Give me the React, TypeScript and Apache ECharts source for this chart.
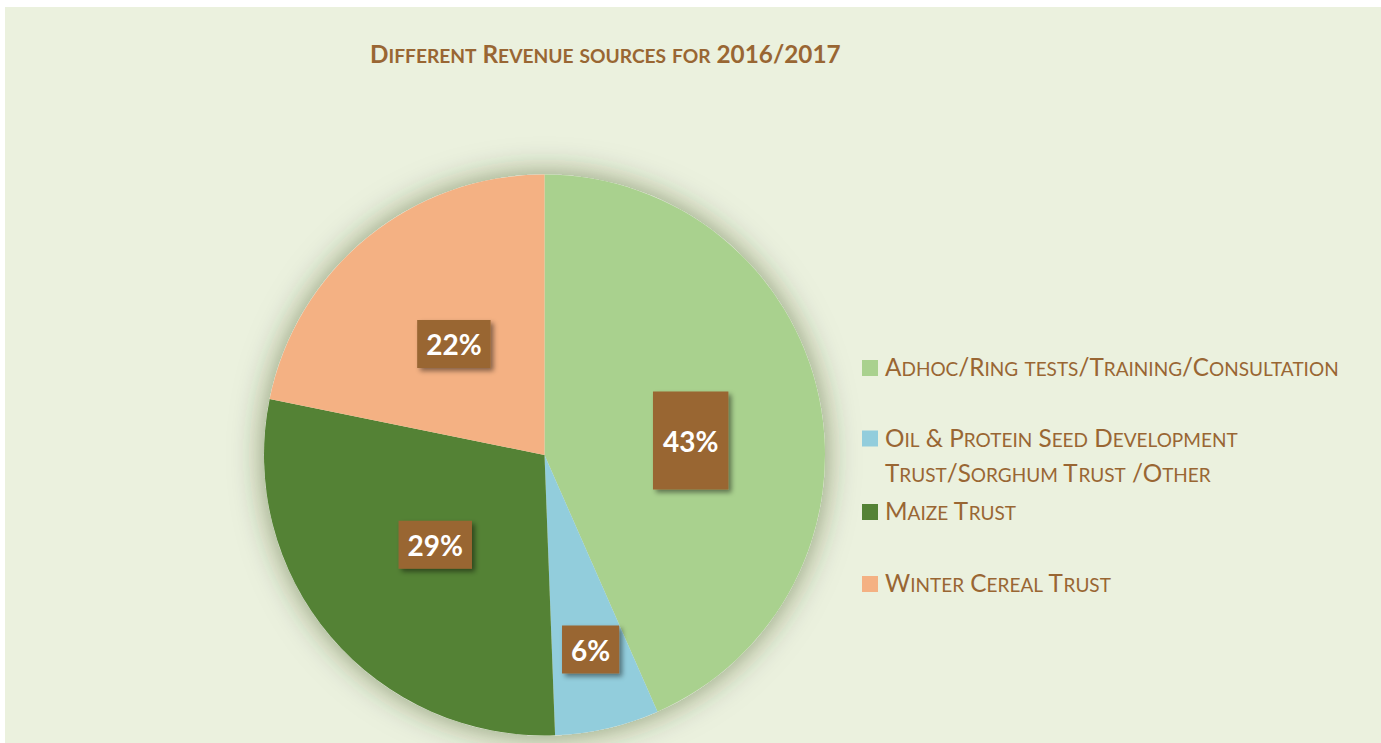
import React, { useEffect, useRef } from "react";
import * as echarts from "echarts";

const categories = [
  "Adhoc/Ring tests/Training/Consultation",
  "Oil & Protein Seed Development Trust/Sorghum Trust /Other",
  "Maize Trust",
  "Winter Cereal Trust",
];
const legendLabels = [
  "Adhoc/Ring tests/Training/Consultation",
  "Oil & Protein Seed Development\nTrust/Sorghum Trust /Other",
  "Maize Trust",
  "Winter Cereal Trust",
];
const values = [43.4, 6.0, 28.8, 21.8];
const titleText = "Different Revenue sources for 2016/2017";

const colors = ["#A9D18E", "#92CDDC", "#548235", "#F4B183"];
const brown = "#996633";
const font = "Lato";

function smallCaps(s: string, big: string, small: string): string {
  return s
    .split("\n")
    .map((line) => {
      let out = "";
      line.replace(/([a-z]+)|([^a-z]+)/g, (m: string, lo: string, other: string) => {
        if (lo) out += `{${small}|${lo.toUpperCase()}}`;
        else out += `{${big}|${other}}`;
        return m;
      });
      return out;
    })
    .join("\n");
}

export default function App() {
  const ref = useRef<HTMLDivElement>(null);
  useEffect(() => {
    if (!ref.current) return;
    const chart = echarts.init(ref.current, undefined, { renderer: "svg" });
    const center = [539.5, 448];
    const radius = 280.5;
    const labelShift = [
      [6, 15],
      [14, 55],
      [0, -3],
      [0, 0],
    ];
    const legendTops = [347, 386, 491, 563];
    const legendLH = [20, 35, 20, 20];
    const legendPadTop = [0, 21, 0, 0];
    chart.setOption({
      animation: false,
      backgroundColor: "#EBF1DE",
      title: {
        text: smallCaps(titleText, "c", "s"),
        left: 365,
        top: 28,
        padding: 0,
        textStyle: {
          color: brown,
          fontFamily: font,
          fontWeight: "bold",
          lineHeight: 30,
          rich: {
            c: { fontSize: 24.3, fontWeight: "bold", color: brown, fontFamily: font, lineHeight: 30, verticalAlign: "bottom" },
            s: { fontSize: 19.2, fontWeight: "bold", color: brown, fontFamily: font, lineHeight: 30, verticalAlign: "bottom" },
          },
        },
      },
      legend: categories.map((c, i) => ({
        data: [c],
        orient: "vertical",
        left: 857,
        top: legendTops[i],
        padding: 0,
        itemWidth: 16,
        itemHeight: 16,
        itemGap: 0,
        icon: "rect",
        selectedMode: false,
        formatter: () => smallCaps(legendLabels[i], "c", "s"),
        textStyle: {
          color: brown,
          fontFamily: font,
          lineHeight: legendLH[i],
          padding: [legendPadTop[i], 0, 0, 2],
          rich: {
            c: { fontSize: 24.3, color: brown, fontFamily: font, lineHeight: legendLH[i], verticalAlign: "bottom" },
            s: { fontSize: 19, color: brown, fontFamily: font, lineHeight: legendLH[i], verticalAlign: "bottom" },
          },
        },
      })),
      series: [
        {
          type: "pie",
          silent: true,
          center,
          radius,
          label: { show: false },
          labelLine: { show: false },
          itemStyle: {
            color: "#EBF1DE",
            shadowBlur: 32,
            shadowColor: "rgba(40,60,20,0.5)",
          },
          data: [{ name: "_shadow", value: 1 }],
          z: 1,
        },
        {
          type: "pie",
          center,
          radius,
          startAngle: 90,
          clockwise: true,
          z: 2,
          emphasis: { disabled: true },
          itemStyle: { borderWidth: 0 },
          label: {
            show: true,
            position: "inside",
            formatter: (p: any) => Math.round(p.percent) + "%",
            color: "#FFFFFF",
            fontFamily: font,
            fontWeight: "bold",
            fontSize: 28,
            backgroundColor: brown,
            padding: [10, 9],
            shadowColor: "rgba(0,0,0,0.45)",
            shadowBlur: 5,
            shadowOffsetX: 3,
            shadowOffsetY: 3,
          },
          labelLine: { show: false },
          labelLayout: (params: any) => ({
            dx: labelShift[params.dataIndex][0],
            dy: labelShift[params.dataIndex][1],
          }),
          data: categories.map((name, i) => ({
            name,
            value: values[i],
            itemStyle: { color: colors[i] },
            label: i === 0 ? { padding: [35, 10] } : undefined,
          })),
        },
      ],
    });
    return () => chart.dispose();
  }, []);
  return (
    <div
      ref={ref}
      style={{ position: "absolute", left: 5, top: 7, width: 1376, height: 736 }}
    />
  );
}
